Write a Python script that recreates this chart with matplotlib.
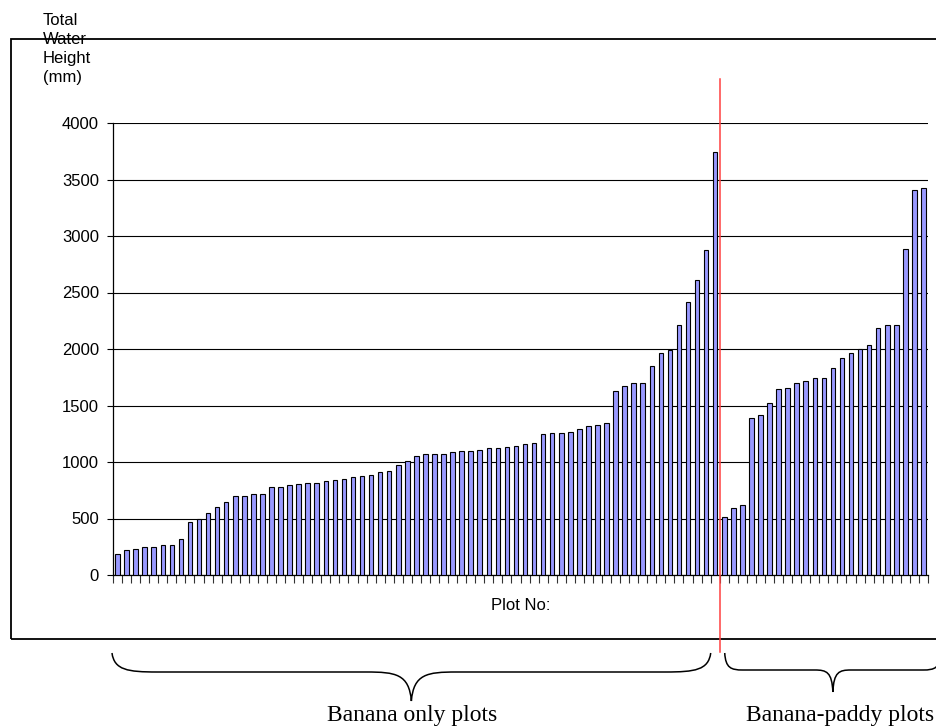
import numpy as np
import matplotlib
matplotlib.use("Agg")
import matplotlib.pyplot as plt
from matplotlib.path import Path
from matplotlib.patches import PathPatch, Rectangle
from matplotlib.lines import Line2D

# total water height per plot (mm), sorted within each group
banana_only = [182, 221, 232, 247, 247, 268, 268, 315, 465, 500, 550, 600,
               647, 697, 697, 721, 721, 782, 782, 794, 806, 818, 818, 835,
               844, 853, 865, 876, 885, 912, 924, 974, 1012, 1056, 1071, 1071,
               1071, 1085, 1094, 1094, 1109, 1121, 1121, 1132, 1144, 1156, 1171,
               1244, 1256, 1256, 1265, 1294, 1318, 1329, 1341, 1624, 1674, 1697,
               1697, 1853, 1965, 1988, 2209, 2418, 2609, 2876, 3744]
banana_paddy = [509, 597, 620, 1391, 1412, 1524, 1644, 1656, 1697, 1718,
                1741, 1741, 1832, 1924, 1965, 2000, 2038, 2182, 2209, 2209,
                2888, 3403, 3426]
y_ticks = [0, 500, 1000, 1500, 2000, 2500, 3000, 3500, 4000]
group_labels = ["Banana only plots", "Banana-paddy plots"]

heights = banana_only + banana_paddy
n = len(heights)
xs = np.arange(n)
split = len(banana_only) - 0.5

W, H = 937, 726
fig = plt.figure(figsize=(W / 100, H / 100), dpi=100)
ax = fig.add_axes([113 / W, 1 - 575 / H, 815 / W, 452 / H])

ax.bar(xs, heights, width=0.5, color="#9999FF", edgecolor="black",
       linewidth=0.8, zorder=3)

ax.set_xlim(-0.5, n - 0.5)
ax.set_ylim(0, 4000)
ax.set_yticks(y_ticks)
ax.set_yticklabels([str(v) for v in y_ticks], fontsize=12,
                   fontfamily="Liberation Sans")
ax.set_xticks(np.arange(n + 1) - 0.5)
ax.set_xticklabels([])
ax.tick_params(axis="x", length=6, width=0.8, color="#333333")
ax.tick_params(axis="y", length=4, width=0.8, pad=6)
ax.yaxis.grid(True, color="black", linewidth=0.8, zorder=0)
ax.set_axisbelow(True)
for s in ["top", "right"]:
    ax.spines[s].set_visible(False)
ax.spines["left"].set_linewidth(0.9)
ax.spines["bottom"].set_linewidth(0.9)

ax.set_xlabel("Plot No:", fontsize=12, fontfamily="Liberation Sans")
ax.xaxis.set_label_coords(0.5, -0.051)

fig.text(43 / W, 1 - 13 / H, "Total\nWater\nHeight\n(mm)", fontsize=12,
         fontfamily="Liberation Sans", ha="left", va="top", linespacing=1.33)

# outer chart frame, runs off the right edge
fig.add_artist(Rectangle((11 / W, 1 - 639 / H), (W + 10 - 11) / W, 600 / H,
                         transform=fig.transFigure, fill=False,
                         edgecolor="black", linewidth=1.3, zorder=1))

# divider between the two groups
fig.canvas.draw()
x_split = ax.transData.transform((split, 0))[0]
fig.add_artist(Line2D([x_split / W, x_split / W], [1 - 79 / H, 1 - 652 / H],
                      transform=fig.transFigure, color="#FF4040",
                      linewidth=1.1, zorder=5))


def brace(x0, x1, y_top, y_mid, y_tip, w):
    # curly brace in pixel coords (y measured from the top)
    xm = (x0 + x1) / 2
    pts = [(x0, y_top),
           (x0 + 0.05 * w, y_mid - 2), (x0 + 0.35 * w, y_mid), (x0 + w, y_mid),
           (xm - w, y_mid),
           (xm - 0.35 * w, y_mid), (xm - 0.05 * w, y_mid + 2), (xm, y_tip),
           (xm + 0.05 * w, y_mid + 2), (xm + 0.35 * w, y_mid), (xm + w, y_mid),
           (x1 - w, y_mid),
           (x1 - 0.35 * w, y_mid), (x1 - 0.05 * w, y_mid - 2), (x1, y_top)]
    codes = [Path.MOVETO] + [Path.CURVE4] * 3 + [Path.LINETO] + \
            [Path.CURVE4] * 6 + [Path.LINETO] + [Path.CURVE4] * 3
    verts = [(x / W, 1 - y / H) for x, y in pts]
    fig.add_artist(PathPatch(Path(verts, codes), transform=fig.transFigure,
                             fill=False, edgecolor="black", linewidth=1.1))
    return xm


x_left = ax.transData.transform((-0.5, 0))[0]
m1 = brace(x_left - 1, x_split - 9, 653, 672, 701, 45)
m2 = brace(x_split + 5, W + 4, 653, 670, 692, 18)

fig.text(412 / W, 1 - 715 / H, group_labels[0], fontsize=17,
         fontfamily="Liberation Serif", ha="center", va="center")
fig.text(840 / W, 1 - 715 / H, group_labels[1], fontsize=17,
         fontfamily="Liberation Serif", ha="center", va="center")

fig.savefig("out.png", dpi=100)
